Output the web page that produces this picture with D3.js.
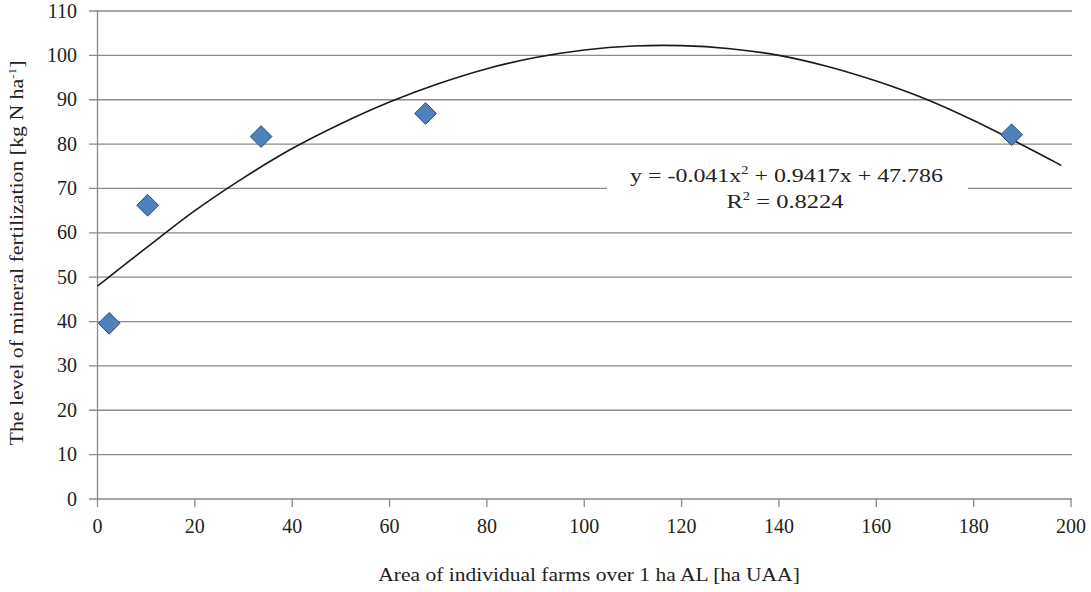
<!DOCTYPE html>
<html><head><meta charset="utf-8">
<script src="https://cdn.jsdelivr.net/npm/d3@7"></script>
<style>body{margin:0;background:#fff}svg{display:block}</style>
</head><body>
<svg id="c" width="1091" height="592"></svg>
<script>
const pointsX = [2.4, 10.3, 33.6, 67.4, 187.8];
const pointsY = [39.6, 66.2, 81.7, 86.9, 82.1];
const trendX = [0,10,20,30,40,50,60,70,80,90,100,110,120,130,140,150,160,170,180,190,198];
const trendY = [48,56.6,65,72.4,79,84.6,89.5,93.6,97,99.5,101.2,102.1,102.2,101.5,100,97.5,94.2,90.2,85.3,79.8,75.2];
const xTicks = [0,20,40,60,80,100,120,140,160,180,200];
const yTicks = [0,10,20,30,40,50,60,70,80,90,100,110];
const eqLine1 = ["y = -0.041x", "2", " + 0.9417x + 47.786"];
const eqLine2 = ["R", "2", " = 0.8224"];
const xTitle = ["Area of individual farms over 1 ha AL [ha UAA]", "", ""];
const yTitle = ["The level of mineral fertilization [kg N ha", "-1", "]"];

const svg = d3.select("#c");
const font = "Liberation Serif";
const grid = "#8a8a8a";
const x = d3.scaleLinear().domain([0,200]).range([97.5,1071]);
const y = d3.scaleLinear().domain([0,110]).range([499,11]);

svg.append("g").selectAll("line").data(yTicks).join("line")
  .attr("x1", 89).attr("x2", x(200)+1).attr("y1", d=>y(d)).attr("y2", d=>y(d))
  .attr("stroke", grid).attr("stroke-width", 1.3);
svg.append("line").attr("x1", x(0)).attr("x2", x(0)).attr("y1", y(110)).attr("y2", y(0)+8)
  .attr("stroke", grid).attr("stroke-width", 1.3);
svg.append("g").selectAll("line").data(xTicks.slice(1)).join("line")
  .attr("x1", d=>x(d)).attr("x2", d=>x(d)).attr("y1", y(0)).attr("y2", y(0)+8)
  .attr("stroke", grid).attr("stroke-width", 1.3);

svg.append("g").selectAll("text").data(yTicks).join("text")
  .attr("x", 77).attr("y", d=>y(d)+6.5).attr("text-anchor","end")
  .style("font-family", font).attr("font-size", 20).attr("fill","#222").text(d=>d);
svg.append("g").selectAll("text").data(xTicks).join("text")
  .attr("x", d=>x(d)).attr("y", 533).attr("text-anchor","middle")
  .style("font-family", font).attr("font-size", 20).attr("fill","#222").text(d=>d);

const trend = trendX.map((d,i)=>[d, trendY[i]]);
svg.append("path").datum(trend)
  .attr("d", d3.line().x(d=>x(d[0])).y(d=>y(d[1])).curve(d3.curveCatmullRom))
  .attr("fill","none").attr("stroke","#1a1a1a").attr("stroke-width",1.6);

const pts = pointsX.map((d,i)=>[d, pointsY[i]]);
svg.append("g").selectAll("path").data(pts).join("path")
  .attr("transform", d=>`translate(${x(d[0])},${y(d[1])})`)
  .attr("d", d3.symbol().type(d3.symbolDiamond2).size(300))
  .attr("fill","#4f81bd").attr("stroke","#2d4a6b").attr("stroke-width",1);

svg.append("rect").attr("x",607).attr("y",156).attr("width",361).attr("height",62).attr("fill","#fff");

// text with optional superscript, stretched horizontally to a target width
function supText(parts, cx, cy, size, width, rot){
  const t = svg.append("text").attr("x",0).attr("y",0).attr("text-anchor","middle")
    .style("font-family",font).attr("font-size",size).attr("fill","#222");
  t.append("tspan").text(parts[0]);
  if (parts[1]) {
    t.append("tspan").attr("dy",-size*0.4).attr("font-size",size*0.6).text(parts[1]);
    t.append("tspan").attr("dy",size*0.4).text(parts[2]);
  }
  const w = t.node().getComputedTextLength();
  const s = w > 0 ? width / w : 1;
  t.attr("transform", `translate(${cx},${cy})${rot ? ` rotate(${rot})` : ""} scale(${s},1)`);
  return t;
}
supText(eqLine1, 786.5, 182, 19.5, 313);
supText(eqLine2, 785, 208, 19.5, 117);
supText(xTitle, 589, 581, 18, 422);
supText(yTitle, 23, 253, 18, 385, -90);
</script>
</body></html>
